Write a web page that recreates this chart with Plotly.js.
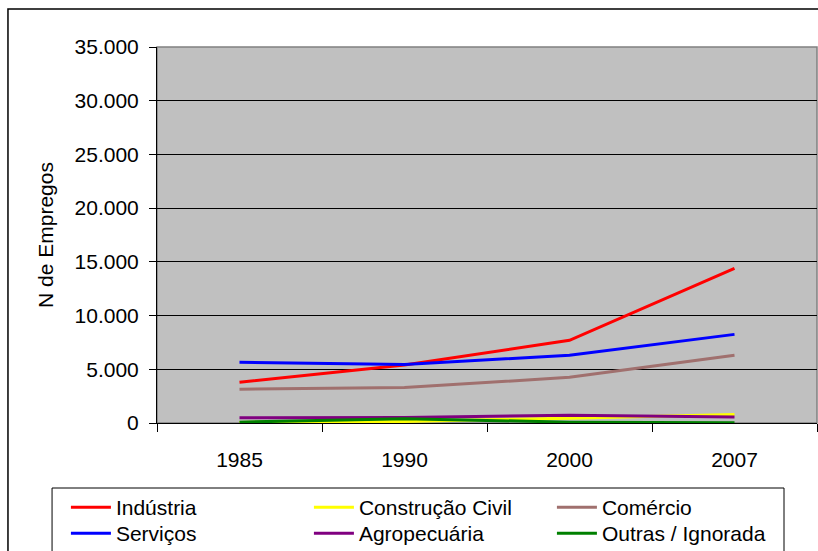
<!DOCTYPE html>
<html>
<head>
<meta charset="utf-8">
<script src="https://cdn.plot.ly/plotly-3.0.1.min.js"></script>
<style>
html,body{margin:0;padding:0;background:#fff;}
#chart{width:818px;height:551px;}
</style>
</head>
<body>
<div id="chart"></div>
<script>
const years = ['1985', '1990', '2000', '2007'];
const industria = [3800, 5400, 7700, 14400];
const construcao = [50, 150, 450, 800];
const comercio = [3150, 3300, 4250, 6300];
const servicos = [5650, 5450, 6300, 8250];
const agropecuaria = [480, 520, 720, 560];
const outras = [80, 400, 80, 30];

const seriesNames = ['Indústria', 'Construção Civil', 'Comércio', 'Serviços', 'Agropecuária', 'Outras / Ignorada'];
const seriesValues = [industria, construcao, comercio, servicos, agropecuaria, outras];
const seriesColors = ['#FF0000', '#FFFF00', '#A0706E', '#0000FF', '#800080', '#008000'];
const seriesLegend = ['legend', 'legend', 'legend', 'legend2', 'legend2', 'legend2'];

const traces = seriesNames.map((n, i) => ({
  type: 'scatter', mode: 'lines', name: n, x: years, y: seriesValues[i],
  legend: seriesLegend[i],
  line: {color: seriesColors[i], width: 3}
}));

const font = {family: 'Liberation Sans, Arial, sans-serif', size: 21, color: '#000'};

const legendBase = {
  orientation: 'h', x: -0.138, xanchor: 'left', yanchor: 'top',
  borderwidth: 0, bgcolor: 'rgba(0,0,0,0)',
  entrywidth: 188, entrywidthmode: 'pixels', itemwidth: 40,
  font: font, tracegroupgap: 0, traceorder: 'normal'
};

const layout = {
  width: 818, height: 551,
  margin: {l: 157, r: 1, t: 47, b: 128, autoexpand: false},
  paper_bgcolor: '#fff', plot_bgcolor: '#C0C0C0',
  separators: ',.',
  font: font,
  showlegend: true,
  xaxis: {
    type: 'category', range: [-0.5, 3.5], tickson: 'boundaries',
    ticks: 'outside', ticklen: 8, tickcolor: '#000', tickwidth: 1,
    showline: true, linecolor: '#000', linewidth: 1,
    showgrid: false, ticklabelstandoff: 18, tickfont: font, fixedrange: true
  },
  yaxis: {
    range: [0, 35000], dtick: 5000, tick0: 0, tickformat: ',d',
    ticks: 'outside', ticklen: 7, tickcolor: '#000',
    showline: true, linecolor: '#000', linewidth: 1,
    showgrid: true, gridcolor: '#000', gridwidth: 1, zeroline: false,
    tickfont: font, ticklabelstandoff: 6,
    title: {text: 'N de Empregos', font: font, standoff: 15}
  },
  legend: Object.assign({}, legendBase, {y: -0.1702}),
  legend2: Object.assign({}, legendBase, {y: -0.2394}),
  shapes: [
    {type: 'rect', xref: 'paper', yref: 'paper', x0: 0, x1: 1, y0: 0, y1: 1,
     line: {color: '#808080', width: 1.5}, layer: 'below'},
    {type: 'rect', xref: 'paper', yref: 'paper', x0: -0.2258, x1: 1.02, y0: -0.4, y1: 1.101,
     line: {color: '#000', width: 1.5}, fillcolor: 'rgba(0,0,0,0)'},
    {type: 'rect', xref: 'paper', yref: 'paper', x0: -0.159, x1: 0.95, y0: -0.4, y1: -0.1729,
     line: {color: '#000', width: 1}, fillcolor: 'rgba(0,0,0,0)'}
  ]
};

Plotly.newPlot('chart', traces, layout, {displayModeBar: false, staticPlot: true});
</script>
</body>
</html>
